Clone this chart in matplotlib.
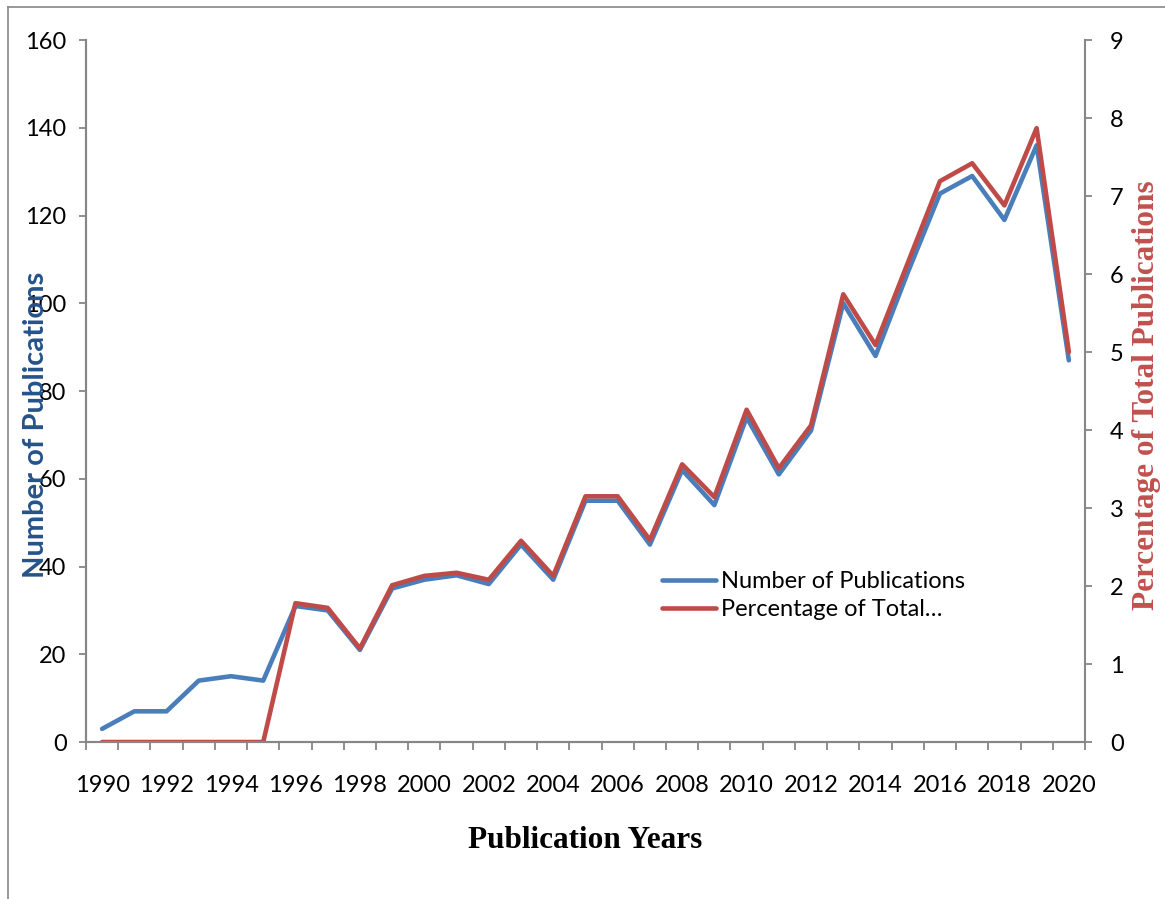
import matplotlib
matplotlib.use("Agg")
import matplotlib.pyplot as plt
from matplotlib.lines import Line2D

# Publications per year and their share of the total
years = list(range(1990, 2021))
num_pubs = [3, 7, 7, 14, 15, 14, 31, 30, 21, 35, 37, 38, 36, 45, 37,
            55, 55, 45, 62, 54, 74, 61, 71, 100, 88, 107, 125, 129, 119, 136, 87]
pct_pubs = [0, 0, 0, 0, 0, 0, 1.78, 1.72, 1.20, 2.01, 2.13, 2.17, 2.08, 2.58, 2.13,
            3.15, 3.15, 2.59, 3.56, 3.14, 4.26, 3.51, 4.06, 5.74, 5.09, 6.14, 7.19, 7.42, 6.88, 7.87, 5.00]

BLUE = '#4A7EBB'
RED = '#BE4B48'
GREY = '#868686'

plt.rcParams['font.family'] = ['Lato', 'DejaVu Sans']

fig = plt.figure(figsize=(11.65, 8.99), dpi=100)
ax = fig.add_axes([0.0738, 0.1746, 0.8575, 0.7809])
ax2 = ax.twinx()

x = list(range(len(years)))
l1, = ax.plot(x, num_pubs, color=BLUE, lw=3.3, solid_capstyle='round',
              solid_joinstyle='round', label='Number of Publications')
l2, = ax2.plot(x, pct_pubs, color=RED, lw=3.3, solid_capstyle='round',
               solid_joinstyle='round', label='Percentage of Total…')

ax.set_xlim(-0.5, len(years) - 0.5)
ax.set_ylim(0, 160)
ax2.set_ylim(0, 9)
ax.set_yticks(range(0, 161, 20))
ax2.set_yticks(range(0, 10))

# category style axis: ticks between years, labels every other year
ax.set_xticks([i - 0.5 for i in range(len(years) + 1)], minor=True)
ax.set_xticks(x[::2])
ax.set_xticklabels([str(y) for y in years[::2]])
ax.tick_params(axis='x', which='major', length=0, pad=24)
ax.tick_params(axis='x', which='minor', length=6, width=1.3, color=GREY)
ax.tick_params(axis='y', length=5, width=1.3, color=GREY, pad=9)
ax2.tick_params(axis='y', length=5, width=1.3, color=GREY, pad=13)
for a in (ax, ax2):
    a.tick_params(labelsize=17)
    for s in a.spines.values():
        s.set_color(GREY)
        s.set_linewidth(1.5)
    a.spines['top'].set_visible(False)
ax.spines['right'].set_visible(False)

ax.set_xlabel('Publication Years', family='Liberation Serif', fontweight='bold',
              fontsize=22.5, labelpad=21)
fig.text(0.031, 0.527, 'Number of Publications', rotation=90, ha='center', va='center',
         fontsize=21, fontweight='bold', color='#24528A')
fig.text(0.984, 0.56, 'Percentage of Total Publications', rotation=90, ha='center',
         va='center', fontsize=22.5, fontweight='bold', color='#C0504D',
         family='Liberation Serif')

ax2.legend(handles=[l1, l2], loc='upper left', bbox_to_anchor=(0.567, 0.257),
           frameon=False, fontsize=17, handlelength=2.3, handletextpad=0.2,
           labelspacing=0.3, borderaxespad=0)

# outer chart frame
fig.add_artist(Line2D([0.0069, 0.0069], [0, 0.992], color=GREY, lw=1.2,
                      transform=fig.transFigure))
fig.add_artist(Line2D([0.0069, 1.0], [0.992, 0.992], color=GREY, lw=1.2,
                      transform=fig.transFigure))

fig.savefig('out.png', dpi=100, facecolor='white')
